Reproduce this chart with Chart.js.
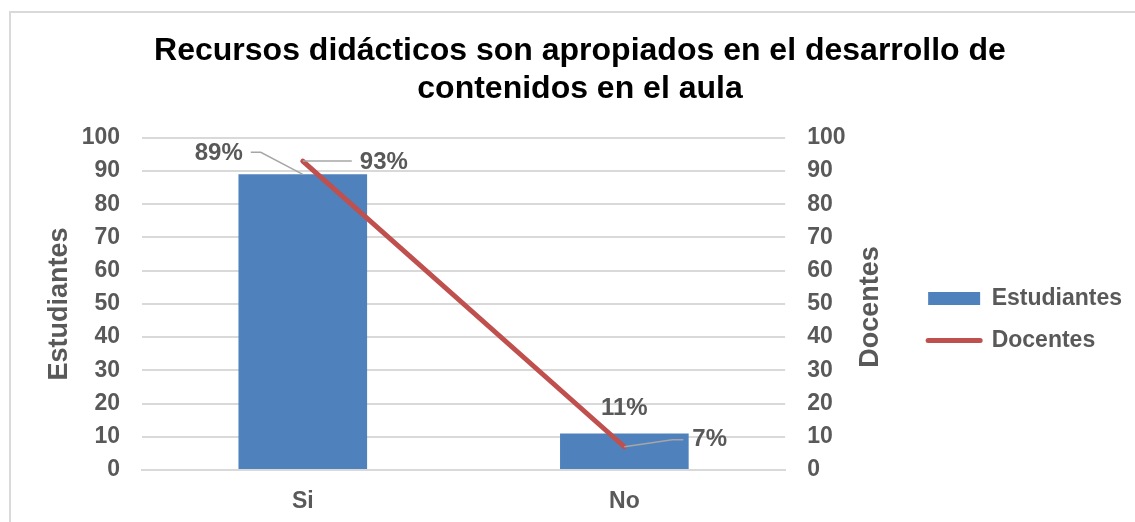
<!DOCTYPE html>
<html>
<head>
<meta charset="utf-8">
<script src="https://cdn.jsdelivr.net/npm/chart.js@4.4.1/dist/chart.umd.min.js"></script>
<style>
  html, body { margin: 0; padding: 0; background: #fff; overflow: hidden; }
  #frame { position: absolute; left: 9px; top: 11px; width: 1200px; height: 600px; border: 2px solid #d9d9d9; }
  #wrap { position: absolute; left: 0; top: 0; width: 1135px; height: 522px; }
</style>
</head>
<body>
<div id="frame"></div>
<div id="wrap"><canvas id="chart"></canvas></div>
<script>
  // data
  const categories = ['Si', 'No'];
  const estudiantes = [89, 11];
  const docentes = [93, 7];
  const estudiantesLabels = ['89%', '11%'];
  const docentesLabels = ['93%', '7%'];

  const grey = '#595959';
  Chart.defaults.font.family = '"Liberation Sans", Arial, sans-serif';
  Chart.defaults.color = grey;

  const tickFont = { size: 23, weight: 'bold' };

  // data labels with leader lines
  const labelPlugin = {
    id: 'dataLabels',
    afterDatasetsDraw(chart) {
      const ctx = chart.ctx;
      const bars = chart.getDatasetMeta(0).data;
      const pts = chart.getDatasetMeta(1).data;
      const leader = (points) => {
        ctx.beginPath();
        ctx.moveTo(points[0][0], points[0][1]);
        for (let i = 1; i < points.length; i++) ctx.lineTo(points[i][0], points[i][1]);
        ctx.stroke();
      };
      ctx.save();
      ctx.font = 'bold 24px "Liberation Sans", Arial, sans-serif';
      ctx.fillStyle = grey;
      ctx.strokeStyle = '#a6a6a6';
      ctx.lineWidth = 1.5;
      ctx.textBaseline = 'middle';

      let b = bars[0];
      leader([[b.x, b.y], [b.x - 42, b.y - 22], [b.x - 52, b.y - 22]]);
      ctx.textAlign = 'right';
      ctx.fillText(estudiantesLabels[0], b.x - 60, b.y - 21);

      b = bars[1];
      ctx.textAlign = 'center';
      ctx.fillText(estudiantesLabels[1], b.x, b.y - 25);

      let p = pts[0];
      leader([[p.x, p.y], [p.x + 49, p.y]]);
      ctx.textAlign = 'left';
      ctx.fillText(docentesLabels[0], p.x + 57, p.y + 1);

      p = pts[1];
      leader([[p.x, p.y], [p.x + 48, p.y - 7], [p.x + 59, p.y - 7]]);
      ctx.fillText(docentesLabels[1], p.x + 68, p.y - 7);
      ctx.restore();
    }
  };

  // right axis title reads bottom to top like the left one
  const rightTitle = {
    id: 'rightTitle',
    afterDraw(chart) {
      const s = chart.scales.y2;
      const ctx = chart.ctx;
      ctx.save();
      ctx.translate(s.left + 85, (chart.chartArea.top + chart.chartArea.bottom) / 2 + 3);
      ctx.rotate(-Math.PI / 2);
      ctx.font = 'bold 27px "Liberation Sans", Arial, sans-serif';
      ctx.fillStyle = grey;
      ctx.textAlign = 'center';
      ctx.textBaseline = 'middle';
      ctx.fillText('Docentes', 0, 0);
      ctx.restore();
    }
  };

  const ctx = document.getElementById('chart').getContext('2d');
  new Chart(ctx, {
    type: 'bar',
    data: {
      labels: categories,
      datasets: [{
        label: 'Estudiantes',
        data: estudiantes,
        backgroundColor: '#4F81BD',
        borderWidth: 0,
        barPercentage: 0.4,
        categoryPercentage: 1,
        yAxisID: 'y',
        pointStyle: 'rect',
        order: 1
      }, {
        type: 'line',
        label: 'Docentes',
        data: docentes,
        borderColor: '#C0504D',
        backgroundColor: '#C0504D',
        borderWidth: 5,
        borderCapStyle: 'round',
        pointRadius: 0,
        pointStyle: 'line',
        yAxisID: 'y2',
        order: 0
      }]
    },
    options: {
      responsive: true,
      maintainAspectRatio: false,
      animation: false,
      layout: { padding: { left: 28, right: 3, top: 0, bottom: 0 } },
      plugins: {
        tooltip: { enabled: false },
        title: {
          display: true,
          text: ['Recursos didácticos son apropiados en el desarrollo de', 'contenidos en el aula'],
          color: '#000',
          font: { size: 32, weight: 'bold', lineHeight: 1.2 },
          padding: { top: 32, bottom: 29 }
        },
        legend: {
          position: 'right',
          align: 'start',
          maxWidth: 300,
          title: { display: true, text: '', font: { size: 10 }, padding: { top: 256, bottom: 0 } },
          labels: {
            usePointStyle: true,
            pointStyleWidth: 52,
            boxHeight: 13,
            padding: 19,
            color: grey,
            font: tickFont,
            sort: (a, b) => a.datasetIndex - b.datasetIndex,
            generateLabels(chart) {
              const items = Chart.defaults.plugins.legend.labels.generateLabels(chart);
              items.forEach(it => {
                if (it.datasetIndex === 1) {
                  it.strokeStyle = '#C0504D';
                  it.lineWidth = 5;
                  it.lineCap = 'round';
                } else {
                  it.lineWidth = 0;
                }
              });
              return items;
            }
          }
        }
      },
      scales: {
        x: {
          grid: { display: false, drawTicks: false },
          border: { display: true, color: '#d9d9d9', width: 2 },
          ticks: { padding: 18, font: tickFont },
          afterFit(s) { s.height = 52; }
        },
        y: {
          position: 'left',
          min: 0,
          max: 100,
          ticks: { stepSize: 10, padding: 22, font: tickFont },
          grid: { color: '#d9d9d9', lineWidth: 2, drawTicks: false },
          border: { display: false },
          title: {
            display: true,
            text: 'Estudiantes',
            color: grey,
            font: { size: 27, weight: 'bold' },
            padding: { top: 15, bottom: 0 }
          },
          afterFit(s) { s.width = 114; }
        },
        y2: {
          position: 'right',
          min: 0,
          max: 100,
          ticks: { stepSize: 10, padding: 22, font: tickFont },
          grid: { display: false, drawTicks: false },
          border: { display: false },
          afterFit(s) { s.width = 124; }
        }
      }
    },
    plugins: [labelPlugin, rightTitle]
  });
</script>
</body>
</html>
